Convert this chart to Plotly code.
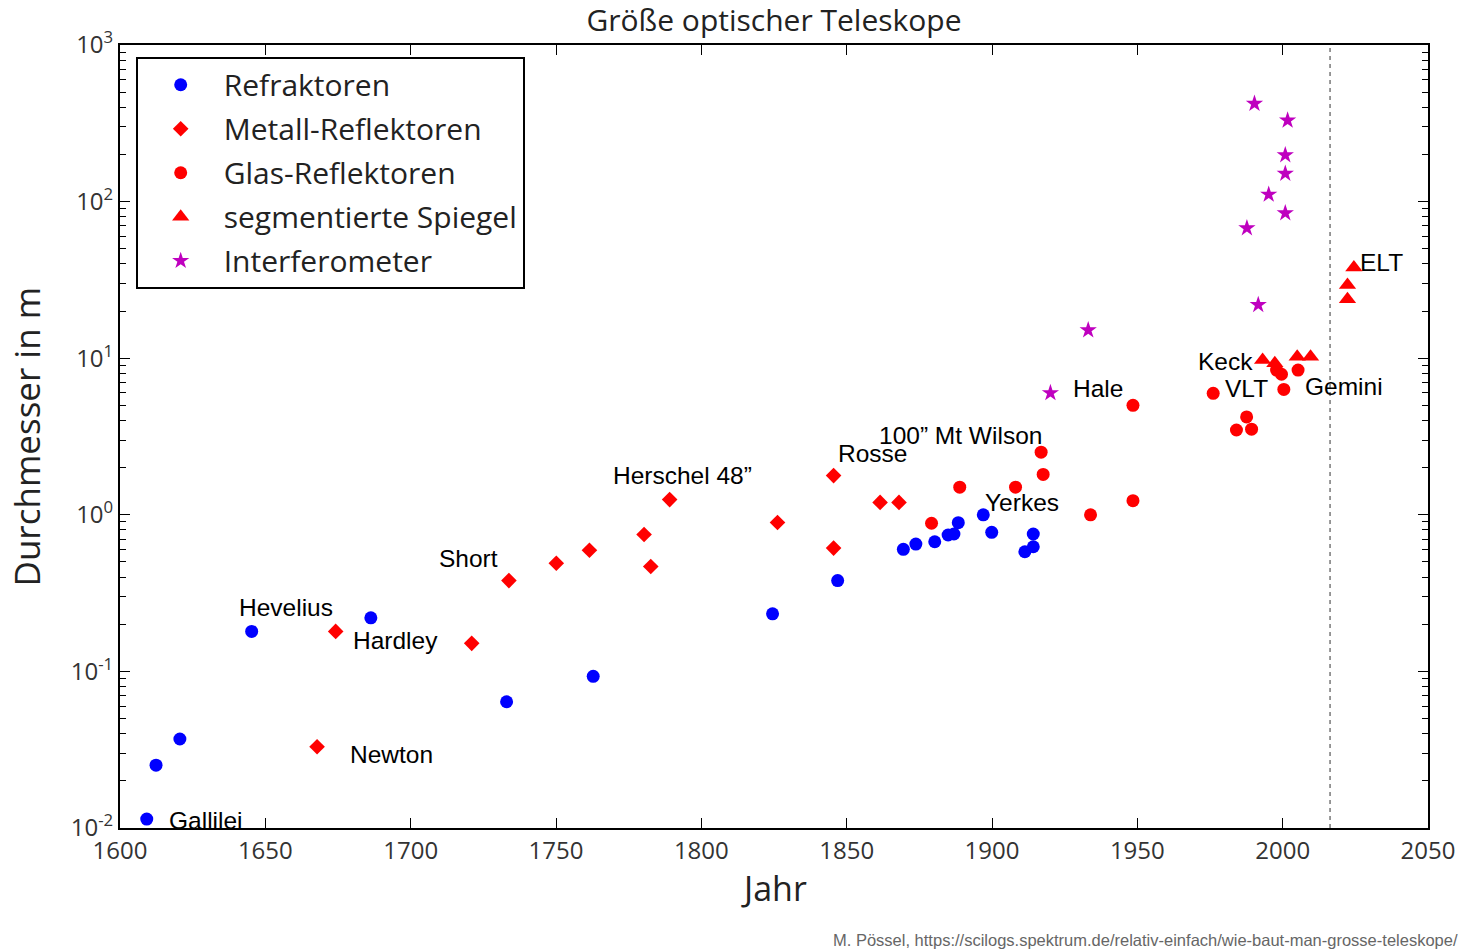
import numpy as np
import plotly.graph_objects as go

# ---------------- data (year, diameter in m) ----------------
refr_year = [1609.2, 1612.4, 1620.6, 1645.3, 1686.3, 1733.0, 1762.8, 1824.5, 1846.9,
             1869.5, 1873.8, 1880.3, 1884.9, 1886.9, 1888.4, 1897.0, 1899.9,
             1911.3, 1914.2, 1914.2]
refr_diam = [0.0114, 0.0252, 0.037, 0.18, 0.22, 0.064, 0.093, 0.233, 0.38,
             0.602, 0.650, 0.673, 0.743, 0.754, 0.891, 1.0, 0.773,
             0.581, 0.625, 0.754]

metal_year = [1667.8, 1674.2, 1721.0, 1733.8, 1750.1, 1761.5, 1780.3, 1782.6, 1789.1,
              1826.2, 1845.5, 1845.5, 1861.5, 1868.0]
metal_diam = [0.033, 0.18, 0.151, 0.38, 0.491, 0.594, 0.748, 0.468, 1.25,
              0.893, 1.78, 0.613, 1.2, 1.2]

glass_year = [1879.2, 1888.9, 1908.1, 1916.9, 1917.6, 1933.9, 1948.5, 1948.5,
              1976.1, 1984.1, 1987.6, 1989.3, 1997.9, 1999.6, 2000.4, 2005.3]
glass_diam = [0.883, 1.50, 1.50, 2.51, 1.81, 1.0, 5.0, 1.23,
              5.97, 3.48, 4.22, 3.52, 8.4, 7.9, 6.32, 8.4]

seg_year = [1993.1, 1997.3, 2005.0, 2009.6, 2022.3, 2022.3, 2024.5]
seg_diam = [9.75, 9.27, 10.2, 10.2, 23.8, 29.3, 38.0]

intf_year = [1920.1, 1933.1, 1987.7, 1990.3, 1991.6, 1995.2, 2000.9, 2000.9, 2000.9, 2001.7]
intf_diam = [6.0, 15.1, 67.7, 422, 21.9, 111, 84.4, 151, 198, 330]

series_names = ["Refraktoren", "Metall-Reflektoren", "Glas-Reflektoren",
                "segmentierte Spiegel", "Interferometer"]

label_text = ["Gallilei", "Newton", "Hardley", "Hevelius", "Short", "Herschel 48\u201d",
              "Rosse", "100\u201d Mt Wilson", "Yerkes", "Hale", "Keck", "VLT", "Gemini", "ELT"]
label_year = [1616.3, 1678.3, 1679.3, 1640.4, 1709.2, 1769.0,
              1846.5, 1860.4, 1896.8, 1927.3, 1970.2, 1979.6, 2007.0, 2026.0]
label_logd = [-1.955, -1.53, -0.805, -0.59, -0.277, 0.25,
              0.392, 0.507, 0.08, 0.805, 0.978, 0.807, 0.818, 1.608]

now_year = 2016.3

year_ticks = [1600, 1650, 1700, 1750, 1800, 1850, 1900, 1950, 2000, 2050]
decade_exp = [-2, -1, 0, 1, 2, 3]

# ---------------- figure ----------------
fig = go.Figure()

styles = [
    dict(symbol="circle", size=13, color="#0000FF"),
    dict(symbol="diamond", size=12, color="#FF0000"),
    dict(symbol="circle", size=13, color="#FF0000"),
    dict(symbol="triangle-up", size=15, color="#FF0000"),
    dict(symbol="star", size=13, color="#BF00BF"),
]
xs = [refr_year, metal_year, glass_year, seg_year, intf_year]
ys = [refr_diam, metal_diam, glass_diam, seg_diam, intf_diam]

for i, (name, x, y, st) in enumerate(zip(series_names, xs, ys, styles)):
    fig.add_trace(go.Scatter(
        x=x, y=y, mode="markers", name=name, legendgroup=f"g{i}",
        marker=dict(symbol=st["symbol"], size=st["size"], color=st["color"],
                    line=dict(width=0)),
    ))

annotations = []
for t, xv, yv in zip(label_text, label_year, label_logd):
    annotations.append(dict(
        x=xv, y=yv, xref="x", yref="y", text=t, showarrow=False,
        xanchor="left", yanchor="middle",
        font=dict(family="Liberation Sans, Arial, sans-serif", size=24.5, color="black"),
    ))

# axis titles
annotations.append(dict(x=0.5, y=0, xref="paper", yref="paper", text="Jahr",
                        showarrow=False, xanchor="center", yanchor="middle", yshift=-60,
                        font=dict(family="Open Sans, sans-serif", size=34, color="#222")))
annotations.append(dict(x=0, y=0.5, xref="paper", yref="paper", text="Durchmesser in m",
                        showarrow=False, xanchor="center", yanchor="middle", xshift=-94,
                        textangle=-90,
                        font=dict(family="Open Sans, sans-serif", size=35, color="#222")))
# footer
annotations.append(dict(x=1, y=0, xref="paper", yref="paper",
                        text="M. P\u00f6ssel, https://scilogs.spektrum.de/relativ-einfach/wie-baut-man-grosse-teleskope/",
                        showarrow=False, xanchor="right", yanchor="middle", xshift=32, yshift=-112,
                        font=dict(family="Liberation Sans, Arial, sans-serif", size=16.5, color="#666")))

fig.add_shape(type="line", xref="x", yref="paper", x0=now_year, x1=now_year, y0=0, y1=1,
              line=dict(color="#777", width=1.5, dash="4px,4px"))

fig.update_layout(
    width=1474, height=952,
    margin=dict(l=120, r=46, t=45, b=124),
    paper_bgcolor="white", plot_bgcolor="white",
    title=dict(text="Größe optischer Teleskope", x=0.5, xref="paper", xanchor="center",
               y=0.978, yref="container", yanchor="middle",
               font=dict(family="Open Sans, sans-serif", size=30, color="#222")),
    showlegend=True,
    legend=dict(x=0.012, y=0.985, xanchor="left", yanchor="top",
                bordercolor="black", borderwidth=2, bgcolor="white",
                font=dict(family="Open Sans, sans-serif", size=30, color="#222"),
                traceorder="grouped", tracegroupgap=2, itemwidth=76),
    annotations=annotations,
)

fig.update_xaxes(
    range=[1600, 2050], tickvals=year_ticks, ticktext=[str(v) for v in year_ticks],
    showgrid=False, zeroline=False, showline=True, linecolor="black", linewidth=2,
    mirror="allticks", ticks="inside", ticklen=10, tickwidth=1, tickcolor="black",
    tickfont=dict(family="Open Sans, sans-serif", size=24, color="#333"),
)
fig.update_yaxes(
    type="log", range=[-2, 3],
    tickvals=[10.0 ** e for e in decade_exp],
    ticktext=[f"10<sup>{e}</sup>" for e in decade_exp],
    showgrid=False, zeroline=False, showline=True, linecolor="black", linewidth=2,
    mirror="allticks", ticks="inside", ticklen=10, tickwidth=1, tickcolor="black",
    minor=dict(ticks="inside", ticklen=6, tickwidth=1, tickcolor="black", dtick="D1", showgrid=False),
    tickfont=dict(family="Open Sans, sans-serif", size=24, color="#333"),
)

fig.write_html("out.html")
